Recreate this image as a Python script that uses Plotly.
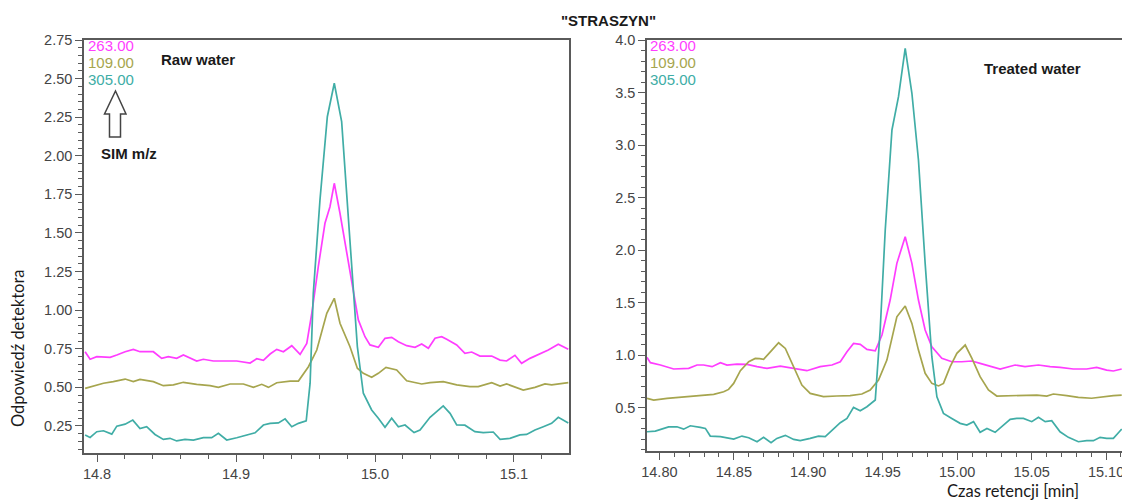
import plotly.graph_objects as go

# ---------------- data: Raw water (left panel) ----------------
raw_t_263 = [14.7914, 14.7950, 14.7998, 14.8046, 14.8094, 14.8142, 14.8202, 14.8261, 14.8309, 14.8405,
             14.8465, 14.8513, 14.8573, 14.8621, 14.8669, 14.8717, 14.8765, 14.8837, 14.8909, 14.9005,
             14.9101, 14.9149, 14.9197, 14.9245, 14.9293, 14.9341, 14.9401, 14.9461, 14.9509, 14.9545,
             14.9592, 14.9640, 14.9676, 14.9707, 14.9748, 14.9796, 14.9844, 14.9880, 14.9928, 14.9964,
             15.0024, 15.0072, 15.0120, 15.0168, 15.0228, 15.0288, 15.0336, 15.0384, 15.0432, 15.0480,
             15.0516, 15.0588, 15.0647, 15.0696, 15.0755, 15.0840, 15.0900, 15.0947, 15.1007, 15.1055,
             15.1115, 15.1187, 15.1247, 15.1319, 15.1391]
raw_v_263 = [0.731, 0.682, 0.699, 0.699, 0.695, 0.710, 0.731, 0.746, 0.731, 0.731,
             0.688, 0.699, 0.688, 0.710, 0.688, 0.671, 0.682, 0.671, 0.671, 0.671,
             0.658, 0.686, 0.675, 0.716, 0.746, 0.731, 0.770, 0.714, 0.785, 0.980,
             1.282, 1.563, 1.670, 1.822, 1.628, 1.368, 1.130, 0.937, 0.828, 0.775,
             0.760, 0.818, 0.824, 0.796, 0.770, 0.760, 0.781, 0.753, 0.818, 0.828,
             0.811, 0.775, 0.721, 0.729, 0.703, 0.703, 0.677, 0.671, 0.708, 0.656,
             0.688, 0.716, 0.742, 0.779, 0.747]

raw_t_109 = [14.7914, 14.8046, 14.8117, 14.8202, 14.8261, 14.8309, 14.8405, 14.8477, 14.8549, 14.8621,
             14.8717, 14.8813, 14.8873, 14.8957, 14.9053, 14.9125, 14.9185, 14.9233, 14.9293, 14.9389,
             14.9449, 14.9521, 14.9581, 14.9653, 14.9707, 14.9748, 14.9820, 14.9873, 14.9916, 14.9976,
             15.0024, 15.0079, 15.0156, 15.0228, 15.0336, 15.0396, 15.0491, 15.0588, 15.0683, 15.0743,
             15.0840, 15.0900, 15.0947, 15.1067, 15.1151, 15.1223, 15.1271, 15.1391]
raw_v_109 = [0.494, 0.527, 0.537, 0.554, 0.537, 0.552, 0.537, 0.511, 0.516, 0.533,
             0.520, 0.511, 0.500, 0.522, 0.522, 0.500, 0.520, 0.500, 0.530, 0.541,
             0.541, 0.634, 0.742, 0.980, 1.077, 0.915, 0.763, 0.624, 0.591, 0.565,
             0.591, 0.630, 0.613, 0.543, 0.522, 0.531, 0.537, 0.516, 0.505, 0.505,
             0.531, 0.509, 0.522, 0.483, 0.500, 0.522, 0.516, 0.531]

raw_t_305 = [14.7914, 14.7950, 14.7998, 14.8046, 14.8106, 14.8142, 14.8202, 14.8257, 14.8309, 14.8357,
             14.8417, 14.8477, 14.8525, 14.8573, 14.8633, 14.8693, 14.8765, 14.8825, 14.8873, 14.8933,
             14.9005, 14.9077, 14.9137, 14.9197, 14.9245, 14.9305, 14.9353, 14.9401, 14.9449, 14.9505,
             14.9533, 14.9556, 14.9604, 14.9657, 14.9707, 14.9760, 14.9796, 14.9832, 14.9873, 14.9916,
             14.9976, 15.0024, 15.0072, 15.0120, 15.0168, 15.0216, 15.0281, 15.0324, 15.0396, 15.0491,
             15.0540, 15.0588, 15.0647, 15.0719, 15.0779, 15.0851, 15.0900, 15.0971, 15.1043, 15.1091,
             15.1151, 15.1211, 15.1271, 15.1319, 15.1391]
raw_v_305 = [0.192, 0.176, 0.213, 0.219, 0.197, 0.249, 0.262, 0.288, 0.234, 0.245,
             0.195, 0.163, 0.170, 0.153, 0.163, 0.159, 0.174, 0.174, 0.202, 0.159,
             0.174, 0.192, 0.206, 0.256, 0.267, 0.270, 0.296, 0.245, 0.267, 0.283,
             0.527, 1.109, 1.714, 2.253, 2.470, 2.221, 1.757, 1.239, 0.764, 0.462,
             0.354, 0.300, 0.242, 0.300, 0.245, 0.256, 0.207, 0.224, 0.306, 0.380,
             0.332, 0.257, 0.255, 0.213, 0.207, 0.211, 0.164, 0.170, 0.192, 0.195,
             0.224, 0.245, 0.267, 0.306, 0.270]

# ---------------- data: Treated water (right panel) ----------------
tr_t_263 = [14.7917, 14.7940, 14.8007, 14.8096, 14.8197, 14.8253, 14.8297, 14.8354, 14.8410, 14.8454,
            14.8521, 14.8589, 14.8656, 14.8723, 14.8812, 14.8901, 14.8991, 14.9080, 14.9159, 14.9215,
            14.9260, 14.9304, 14.9349, 14.9394, 14.9450, 14.9495, 14.9550, 14.9595, 14.9651, 14.9696,
            14.9740, 14.9785, 14.9830, 14.9897, 14.9964, 15.0031, 15.0099, 15.0154, 15.0200, 15.0289,
            15.0389, 15.0456, 15.0546, 15.0624, 15.0691, 15.0780, 15.0870, 15.0937, 15.1004, 15.1049,
            15.1105]
tr_v_263 = [0.981, 0.930, 0.908, 0.870, 0.876, 0.908, 0.908, 0.892, 0.930, 0.908,
            0.917, 0.914, 0.892, 0.876, 0.898, 0.876, 0.854, 0.892, 0.908, 0.939,
            1.034, 1.114, 1.104, 1.057, 1.044, 1.193, 1.526, 1.875, 2.129, 1.875,
            1.526, 1.241, 1.082, 0.971, 0.939, 0.939, 0.946, 0.924, 0.908, 0.870,
            0.908, 0.892, 0.908, 0.892, 0.886, 0.870, 0.870, 0.886, 0.860, 0.851,
            0.870]

tr_t_109 = [14.7917, 14.7962, 14.8052, 14.8163, 14.8275, 14.8365, 14.8432, 14.8465, 14.8499, 14.8544,
            14.8600, 14.8644, 14.8673, 14.8700, 14.8756, 14.8801, 14.8846, 14.8901, 14.8957, 14.9013,
            14.9102, 14.9192, 14.9281, 14.9360, 14.9416, 14.9472, 14.9528, 14.9595, 14.9651, 14.9696,
            14.9740, 14.9785, 14.9830, 14.9875, 14.9908, 14.9953, 14.9998, 15.0054, 15.0099, 15.0154,
            15.0210, 15.0266, 15.0356, 15.0445, 15.0535, 15.0602, 15.0646, 15.0736, 15.0814, 15.0903,
            15.0960, 15.1049, 15.1105]
tr_v_109 = [0.591, 0.575, 0.591, 0.607, 0.622, 0.629, 0.654, 0.676, 0.733, 0.854,
            0.939, 0.971, 0.968, 0.961, 1.050, 1.120, 1.066, 0.892, 0.717, 0.638,
            0.607, 0.613, 0.616, 0.632, 0.670, 0.765, 0.955, 1.367, 1.469, 1.304,
            1.050, 0.829, 0.733, 0.709, 0.733, 0.892, 1.019, 1.098, 0.971, 0.797,
            0.670, 0.613, 0.616, 0.613, 0.622, 0.613, 0.632, 0.616, 0.600, 0.592,
            0.603, 0.616, 0.622]

tr_t_305 = [14.7917, 14.7973, 14.8062, 14.8118, 14.8163, 14.8208, 14.8275, 14.8309, 14.8342, 14.8410,
            14.8499, 14.8555, 14.8600, 14.8656, 14.8700, 14.8750, 14.8789, 14.8846, 14.8902, 14.8946,
            14.9013, 14.9069, 14.9114, 14.9170, 14.9215, 14.9260, 14.9304, 14.9349, 14.9394, 14.9450,
            14.9483, 14.9517, 14.9562, 14.9606, 14.9651, 14.9696, 14.9740, 14.9785, 14.9830, 14.9864,
            14.9908, 14.9964, 15.0020, 15.0065, 15.0110, 15.0154, 15.0200, 15.0255, 15.0311, 15.0356,
            15.0400, 15.0445, 15.0501, 15.0546, 15.0591, 15.0635, 15.0691, 15.0747, 15.0814, 15.0870,
            15.0915, 15.0960, 15.1004, 15.1049, 15.1089, 15.1105]
tr_v_305 = [0.273, 0.279, 0.320, 0.320, 0.298, 0.330, 0.315, 0.305, 0.232, 0.226,
            0.204, 0.232, 0.216, 0.178, 0.220, 0.169, 0.210, 0.239, 0.200, 0.188,
            0.210, 0.232, 0.226, 0.305, 0.359, 0.400, 0.505, 0.473, 0.511, 0.575,
            1.241, 2.192, 3.144, 3.461, 3.920, 3.493, 2.858, 1.875, 0.987, 0.606,
            0.448, 0.400, 0.353, 0.337, 0.369, 0.268, 0.305, 0.268, 0.337, 0.391,
            0.400, 0.400, 0.369, 0.410, 0.369, 0.378, 0.273, 0.220, 0.178, 0.188,
            0.188, 0.220, 0.210, 0.210, 0.273, 0.299]

ion_labels = ["263.00", "109.00", "305.00"]
colors = ["#FF3DFF", "#A6A54E", "#40ADA6"]

W, H = 1122, 503


def X(p):
    return p / W


def Y(p):
    return 1 - p / H


fig = go.Figure()
left_series = [(raw_t_263, raw_v_263), (raw_t_109, raw_v_109), (raw_t_305, raw_v_305)]
right_series = [(tr_t_263, tr_v_263), (tr_t_109, tr_v_109), (tr_t_305, tr_v_305)]
for (t, v), c, lab in zip(left_series, colors, ion_labels):
    fig.add_trace(go.Scatter(x=t, y=v, mode="lines", line=dict(color=c, width=1.7),
                             name=lab, xaxis="x", yaxis="y", showlegend=False))
for (t, v), c, lab in zip(right_series, colors, ion_labels):
    fig.add_trace(go.Scatter(x=t, y=v, mode="lines", line=dict(color=c, width=1.7),
                             name=lab, xaxis="x2", yaxis="y2", showlegend=False))

axcol = "#5a5a5a"
tickfont = dict(family="Liberation Sans, Arial, sans-serif", size=14.5, color="#444")


def axis(domain, rng, dtick, minor_dtick, fmt, anchor, mirror=True):
    return dict(domain=domain, range=rng, tick0=0, dtick=dtick, tickformat=fmt,
                showline=True, linecolor=axcol, linewidth=1.6, mirror=mirror,
                ticks="outside", ticklen=7, tickwidth=1.2, tickcolor=axcol,
                minor=dict(dtick=minor_dtick, ticks="outside", ticklen=4, tickwidth=1, tickcolor=axcol,
                           showgrid=False),
                showgrid=False, zeroline=False, tickfont=tickfont, anchor=anchor,
                fixedrange=True, automargin=False, ticklabeloverflow="allow")


fig.update_layout(
    width=W, height=H, autosize=False,
    margin=dict(l=0, r=0, t=0, b=0, pad=0, autoexpand=False),
    paper_bgcolor="white", plot_bgcolor="white",
    xaxis=axis([X(84), X(569)], [14.7906, 15.1396], 0.1, 0.02, ".1f", "y"),
    yaxis=axis([Y(453), Y(40)], [0.075, 2.75], 0.25, 0.05, ".2f", "x"),
    xaxis2=axis([X(647), 1.0], [14.7917, 15.1107], 0.05, 0.01, ".2f", "y2"),
    yaxis2=axis([Y(451), Y(40)], [0.09, 4.0], 0.5, 0.1, ".1f", "x2", mirror=False),
)

lab_font = "Liberation Sans, Arial, sans-serif"
for i, (lab, c) in enumerate(zip(ion_labels, colors)):
    for x0 in (86, 648):
        fig.add_annotation(x=X(x0), y=Y(45 + 17 * i), xref="paper", yref="paper", text=lab,
                           showarrow=False, xanchor="left", yanchor="middle",
                           font=dict(family=lab_font, size=15, color=c))

texts = [
    ("<b>\"STRASZYN\"</b>", 608, 21, "center", 0, lab_font, 15),
    ("<b>Raw water</b>", 159, 59, "left", 0, lab_font, 15),
    ("<b>SIM m/z</b>", 99, 153, "left", 0, lab_font, 15),
    ("<b>Treated water</b>", 982, 69, "left", 0, lab_font, 15),
    ("Odpowiedź detektora", 18, 348, "center", -90, "Lato, Open Sans, sans-serif", 16.5),
    ("Czas retencji [min]", 1013, 491, "center", 0, "Lato, Open Sans, sans-serif", 16.5),
]
for txt, x0, y0, xa, ang, fam, sz in texts:
    fig.add_annotation(x=X(x0), y=Y(y0), xref="paper", yref="paper", text=txt, textangle=ang,
                       showarrow=False, xanchor=xa, yanchor="middle",
                       font=dict(family=fam, size=sz, color="#1a1a1a"))

# hollow up-arrow next to the SIM m/z label
pts = [(115.5, 91), (126, 114), (120.5, 114), (120.5, 137), (109.5, 137), (109.5, 114), (104.5, 114)]
path = "M " + " L ".join(f"{X(a):.5f},{Y(b):.5f}" for a, b in pts) + " Z"
fig.add_shape(type="path", path=path, xref="paper", yref="paper",
              line=dict(color="#444", width=1.5), fillcolor="white")

fig.write_html("out.html", config={"responsive": False, "displayModeBar": False},
               post_script="document.body.style.margin='0';document.body.style.overflow='hidden';")
